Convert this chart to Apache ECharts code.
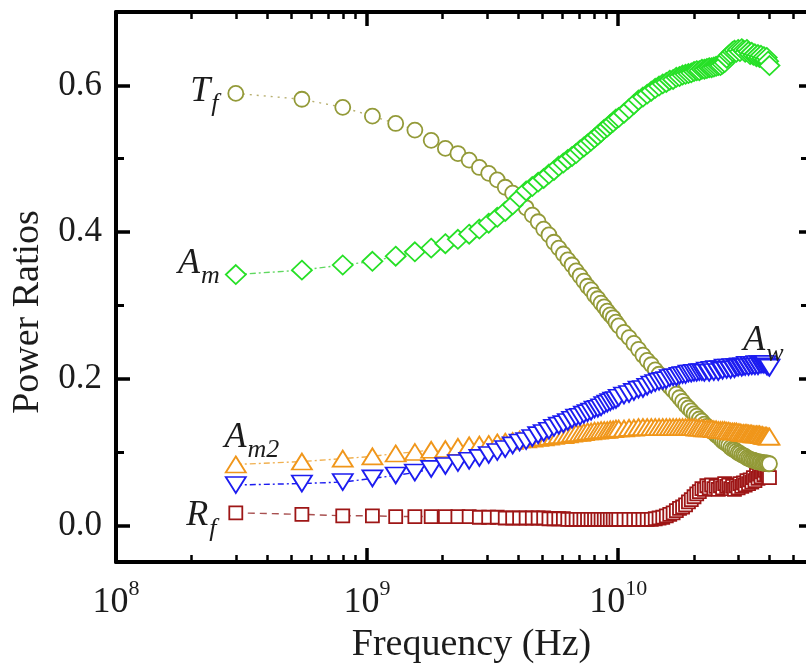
<!DOCTYPE html>
<html>
<head>
<meta charset="utf-8">
<script src="https://cdn.jsdelivr.net/npm/echarts@6/dist/echarts.min.js"></script>
<style>
  html, body { margin: 0; padding: 0; background: #ffffff; }
  #chart { width: 806px; height: 665px; }
</style>
</head>
<body>
<div id="chart"></div>
<script>
// Frequency sweep (GHz)
const freqGHz = [
  0.3, 0.55, 0.8, 1.05, 1.3, 1.55, 1.8, 2.05, 2.3, 2.55,
  2.8, 3.05, 3.3, 3.55, 3.8, 4.05, 4.3, 4.55, 4.8, 5.05,
  5.3, 5.55, 5.8, 6.05, 6.3, 6.55, 6.8, 7.05, 7.3, 7.55,
  7.8, 8.05, 8.3, 8.55, 8.8, 9.05, 9.3, 9.55, 9.8, 10.05,
  10.55, 11.05, 11.55, 12.05, 12.55, 13.05, 13.55, 14.05, 14.55, 15.05,
  15.55, 16.05, 16.55, 17.05, 17.55, 18.05, 18.55, 19.05, 19.55, 20.05,
  20.55, 21.05, 21.55, 22.05, 22.55, 23.05, 23.55, 24.05, 24.55, 25.05,
  25.55, 26.05, 26.55, 27.05, 27.55, 28.05, 28.55, 29.05, 29.55, 30.05,
  30.55, 31.05, 31.55, 32.05, 32.55, 33.05, 33.55, 34.05, 34.55, 35.05,
  35.55, 36.05, 36.55, 37.05, 37.55, 38.05, 38.55, 39.05, 39.55, 40.05
];

// Transmitted power ratio
const Tf = [
  0.589, 0.581, 0.570, 0.558, 0.548, 0.539, 0.525, 0.514, 0.507, 0.498,
  0.488, 0.480, 0.471, 0.461, 0.453, 0.443, 0.433, 0.423, 0.414, 0.404,
  0.396, 0.386, 0.378, 0.370, 0.362, 0.355, 0.347, 0.340, 0.333, 0.326,
  0.321, 0.314, 0.309, 0.303, 0.298, 0.292, 0.287, 0.283, 0.277, 0.272,
  0.263, 0.256, 0.248, 0.240, 0.232, 0.225, 0.219, 0.212, 0.206, 0.200,
  0.194, 0.189, 0.184, 0.179, 0.174, 0.169, 0.164, 0.160, 0.156, 0.152,
  0.149, 0.145, 0.142, 0.138, 0.135, 0.132, 0.129, 0.126, 0.123, 0.121,
  0.118, 0.115, 0.113, 0.111, 0.109, 0.106, 0.104, 0.103, 0.101, 0.099,
  0.098, 0.096, 0.095, 0.094, 0.092, 0.091, 0.090, 0.089, 0.089, 0.088,
  0.087, 0.087, 0.086, 0.086, 0.085, 0.085, 0.085, 0.085, 0.084, 0.084
];

// Power absorbed in the material
const Am = [
  0.342, 0.348, 0.355, 0.360, 0.367, 0.373, 0.378, 0.384, 0.390, 0.397,
  0.404, 0.412, 0.420, 0.428, 0.437, 0.447, 0.456, 0.462, 0.468, 0.473,
  0.479, 0.484, 0.490, 0.494, 0.499, 0.503, 0.507, 0.512, 0.516, 0.520,
  0.524, 0.528, 0.532, 0.536, 0.540, 0.543, 0.547, 0.550, 0.554, 0.556,
  0.562, 0.568, 0.574, 0.580, 0.584, 0.588, 0.592, 0.596, 0.599, 0.602,
  0.604, 0.607, 0.608, 0.611, 0.612, 0.614, 0.615, 0.616, 0.617, 0.619,
  0.620, 0.620, 0.622, 0.622, 0.623, 0.624, 0.624, 0.625, 0.626, 0.627,
  0.627, 0.629, 0.631, 0.637, 0.641, 0.643, 0.646, 0.648, 0.645, 0.649,
  0.646, 0.650, 0.648, 0.645, 0.649, 0.646, 0.642, 0.645, 0.641, 0.643,
  0.639, 0.642, 0.638, 0.641, 0.637, 0.639, 0.635, 0.638, 0.633, 0.627
];

// Power absorbed in the wires
const Aw = [
  0.055, 0.057, 0.059, 0.064, 0.068, 0.072, 0.077, 0.081, 0.085, 0.088,
  0.092, 0.096, 0.100, 0.104, 0.109, 0.113, 0.115, 0.119, 0.123, 0.126,
  0.129, 0.133, 0.136, 0.138, 0.141, 0.144, 0.147, 0.148, 0.151, 0.153,
  0.155, 0.158, 0.159, 0.161, 0.164, 0.166, 0.168, 0.170, 0.171, 0.174,
  0.177, 0.179, 0.182, 0.185, 0.186, 0.189, 0.192, 0.194, 0.196, 0.197,
  0.198, 0.201, 0.202, 0.202, 0.204, 0.205, 0.205, 0.207, 0.207, 0.208,
  0.208, 0.209, 0.209, 0.208, 0.211, 0.208, 0.212, 0.209, 0.213, 0.209,
  0.213, 0.211, 0.215, 0.212, 0.215, 0.212, 0.216, 0.213, 0.216, 0.215,
  0.217, 0.215, 0.217, 0.216, 0.219, 0.216, 0.219, 0.217, 0.219, 0.217,
  0.220, 0.217, 0.220, 0.219, 0.220, 0.219, 0.220, 0.217, 0.216, 0.215
];

// Power absorbed in the second material layer
const Am2 = [
  0.083, 0.087, 0.091, 0.094, 0.098, 0.100, 0.103, 0.104, 0.107, 0.109,
  0.110, 0.111, 0.113, 0.114, 0.115, 0.117, 0.117, 0.118, 0.119, 0.120,
  0.121, 0.122, 0.123, 0.123, 0.124, 0.125, 0.126, 0.126, 0.127, 0.128,
  0.128, 0.129, 0.129, 0.130, 0.130, 0.130, 0.131, 0.131, 0.132, 0.132,
  0.132, 0.133, 0.133, 0.134, 0.134, 0.134, 0.134, 0.134, 0.134, 0.134,
  0.134, 0.134, 0.134, 0.134, 0.134, 0.134, 0.134, 0.134, 0.134, 0.134,
  0.133, 0.133, 0.133, 0.132, 0.132, 0.132, 0.132, 0.131, 0.131, 0.130,
  0.130, 0.130, 0.130, 0.129, 0.129, 0.128, 0.128, 0.128, 0.128, 0.127,
  0.127, 0.126, 0.126, 0.126, 0.126, 0.125, 0.125, 0.125, 0.124, 0.124,
  0.124, 0.124, 0.124, 0.123, 0.123, 0.122, 0.122, 0.122, 0.121, 0.121
];

// Reflected power ratio
const Rf = [
  0.017, 0.015, 0.013, 0.013, 0.012, 0.012, 0.012, 0.012, 0.012, 0.012,
  0.011, 0.011, 0.011, 0.010, 0.010, 0.010, 0.010, 0.010, 0.010, 0.010,
  0.009, 0.009, 0.009, 0.009, 0.008, 0.008, 0.008, 0.008, 0.008, 0.008,
  0.008, 0.008, 0.008, 0.008, 0.008, 0.008, 0.008, 0.008, 0.008, 0.008,
  0.008, 0.008, 0.008, 0.008, 0.008, 0.008, 0.008, 0.009, 0.010, 0.011,
  0.013, 0.015, 0.017, 0.020, 0.023, 0.025, 0.028, 0.032, 0.035, 0.039,
  0.043, 0.046, 0.050, 0.049, 0.054, 0.051, 0.055, 0.050, 0.053, 0.049,
  0.054, 0.051, 0.057, 0.053, 0.055, 0.050, 0.053, 0.049, 0.054, 0.051,
  0.057, 0.053, 0.058, 0.055, 0.061, 0.057, 0.062, 0.059, 0.065, 0.061,
  0.068, 0.064, 0.070, 0.066, 0.073, 0.069, 0.075, 0.070, 0.068, 0.065
];

// Axis ticks and labels
const yTickValues = [0, 0.2, 0.4, 0.6];
const yTickLabels = ['0.0', '0.2', '0.4', '0.6'];
const yMinorValues = [0.1, 0.3, 0.5];
const xDecadeExps = [8, 9, 10];          // labelled as 10^8, 10^9, 10^10

const X_MIN_EXP = 8;
const X_MAX_EXP = 10.76;
const Y_MIN = -0.05;
const Y_MAX = 0.7;

// Minor ticks of the log frequency axis (2..9 x 10^n), in decades
const xMinorExps = [];
for (let n = 8; n <= 10; n++) {
  for (let k = 2; k <= 9; k++) {
    const e = n + Math.log10(k);
    if (e < X_MAX_EXP) xMinorExps.push(e);
  }
}

const SERIF = 'Liberation Serif';
const INK = '#1c1c1c';

const subRich = {
  m: { fontFamily: SERIF, fontStyle: 'italic', fontSize: 36, lineHeight: 36, color: INK, verticalAlign: 'top' },
  s: { fontFamily: SERIF, fontStyle: 'italic', fontSize: 26, lineHeight: 26, color: INK, verticalAlign: 'top', padding: [18, 0, 0, 1] }
};

function makeSeries(name, values, cfg) {
  const data = values.map((v, i) => [freqGHz[i] * 1e9, v]);
  const li = cfg.labelIndex;
  data[li] = {
    value: data[li],
    label: Object.assign({ show: true, rich: subRich }, cfg.label)
  };
  return {
    type: 'line',
    name: name,
    data: data,
    xAxisIndex: 0,
    yAxisIndex: 0,
    symbol: cfg.symbol,
    symbolSize: cfg.size,
    symbolRotate: cfg.rotate || 0,
    showSymbol: true,
    showAllSymbol: true,
    itemStyle: { color: '#ffffff', borderColor: cfg.color, borderWidth: 1.8 },
    lineStyle: { color: cfg.lineColor || cfg.color, width: 1.4, type: cfg.dash },
    emphasis: { disabled: true },
    silent: true,
    z: cfg.z
  };
}

const series = [
  makeSeries('Rf', Rf, {
    symbol: 'rect', size: 13, color: '#9e1616', lineColor: '#a85050', dash: [7, 5], z: 2,
    labelIndex: 0,
    label: { position: 'left', distance: 12, offset: [0, 3], formatter: '{m|R}{s|f}' }
  }),
  makeSeries('Tf', Tf, {
    symbol: 'circle', size: 15, color: '#939a38', lineColor: '#b8b070', dash: [2, 5], z: 3,
    labelIndex: 0,
    label: { position: 'left', distance: 9, offset: [0, -2], formatter: '{m|T}{s|f}' }
  }),
  makeSeries('Am2', Am2, {
    symbol: 'triangle', size: [20, 16], color: '#f0961a', lineColor: '#f0b050', dash: [6, 3, 2, 3], z: 4,
    labelIndex: 0,
    label: { position: 'top', distance: 0, offset: [16, 0], formatter: '{m|A}{s|m2}' }
  }),
  makeSeries('Aw', Aw, {
    symbol: 'triangle', size: [20, 16], rotate: 180, color: '#1c1cf0', dash: [6, 3, 2, 3], z: 5,
    labelIndex: Aw.length - 1,
    label: { position: 'top', distance: 0, offset: [-6, 0], formatter: '{m|A}{s|w}' }
  }),
  makeSeries('Am', Am, {
    symbol: 'diamond', size: [20, 19], color: '#26e026', lineColor: '#60d860', dash: [6, 3, 2, 3], z: 6,
    labelIndex: 0,
    label: { position: 'left', distance: 5, offset: [0, -11], formatter: '{m|A}{s|m}' }
  })
];

const lineStyle = { color: '#000000', width: 4 };

function xValueAxis(position, ticks, len, width, withLine, withLabels) {
  return {
    type: 'value',
    position: position,
    min: X_MIN_EXP,
    max: X_MAX_EXP,
    axisLine: { show: withLine, onZero: false, lineStyle: lineStyle },
    axisTick: { show: true, inside: true, length: len, customValues: ticks, lineStyle: { color: '#000', width: width } },
    axisLabel: withLabels ? {
      show: true,
      customValues: xDecadeExps,
      margin: 16,
      formatter: function (v) { return '{m|10}{s|' + Math.round(v) + '}'; },
      rich: {
        m: { fontFamily: SERIF, fontSize: 36, color: INK, verticalAlign: 'top', padding: [7, 0, 0, 0] },
        s: { fontFamily: SERIF, fontSize: 22, color: INK, verticalAlign: 'top' }
      }
    } : { show: false },
    splitLine: { show: false },
    silent: true
  };
}

function yValueAxis(position, ticks, len, width, withLine, withLabels) {
  return {
    type: 'value',
    position: position,
    min: Y_MIN,
    max: Y_MAX,
    axisLine: { show: withLine, onZero: false, lineStyle: lineStyle },
    axisTick: { show: true, inside: true, length: len, customValues: ticks, lineStyle: { color: '#000', width: width } },
    axisLabel: withLabels ? {
      show: true,
      customValues: yTickValues,
      margin: 14,
      fontFamily: SERIF,
      fontSize: 35,
      color: INK,
      formatter: function (v) { return yTickLabels[yTickValues.indexOf(Math.round(v * 10) / 10)]; }
    } : { show: false },
    splitLine: { show: false },
    silent: true
  };
}

const xMain = xValueAxis('bottom', xDecadeExps, 14, 3.5, true, true);
xMain.name = 'Frequency (Hz)';
xMain.nameLocation = 'middle';
xMain.nameGap = 58;
xMain.nameTextStyle = { fontFamily: SERIF, fontSize: 38, color: INK, padding: [0, 0, 0, 18] };

const yMain = yValueAxis('left', yTickValues, 14, 3.5, true, true);
yMain.name = 'Power Ratios';
yMain.nameLocation = 'middle';
yMain.nameGap = 64;
yMain.nameTextStyle = { fontFamily: SERIF, fontSize: 38, color: INK, padding: [0, 50, 0, 0] };

const option = {
  animation: false,
  backgroundColor: '#ffffff',
  textStyle: { fontFamily: SERIF },
  grid: { left: 116, top: 12, right: -3, bottom: 103, containLabel: false, outerBoundsMode: 'none' },
  xAxis: [
    {
      type: 'log',
      logBase: 10,
      min: Math.pow(10, X_MIN_EXP),
      max: Math.pow(10, X_MAX_EXP),
      show: false,
      splitLine: { show: false }
    },
    xMain,
    xValueAxis('bottom', xMinorExps, 7, 2.5, false, false),
    xValueAxis('top', xDecadeExps, 14, 3.5, true, false),
    xValueAxis('top', xMinorExps, 7, 2.5, false, false)
  ],
  yAxis: [
    yMain,
    yValueAxis('left', yMinorValues, 8, 3, false, false),
    yValueAxis('right', yTickValues, 10, 3.5, true, false),
    yValueAxis('right', yMinorValues, 8, 3, false, false)
  ],
  series: series
};

const chart = echarts.init(document.getElementById('chart'), null, { renderer: 'canvas' });
chart.setOption(option);
</script>
</body>
</html>
